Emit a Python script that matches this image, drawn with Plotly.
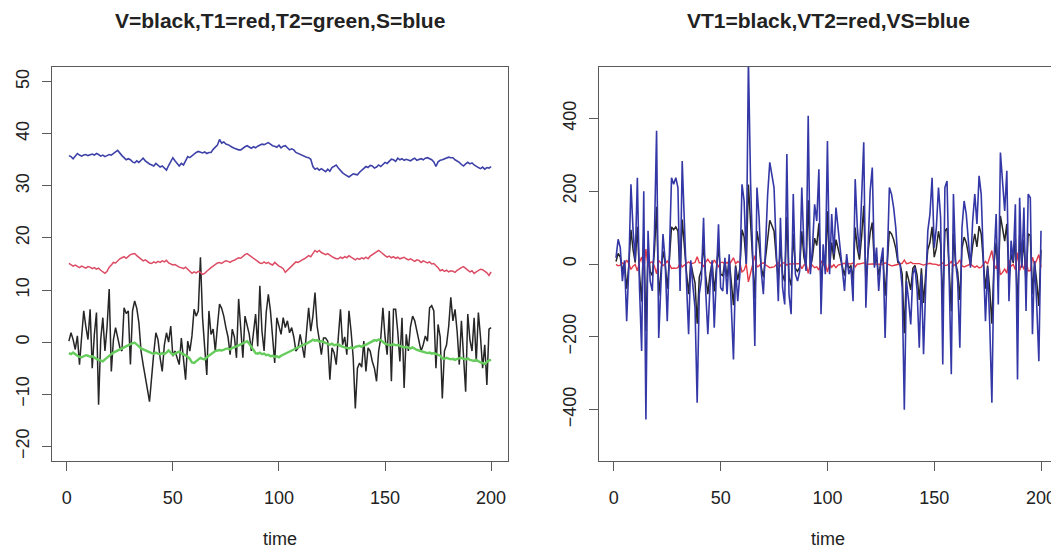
import plotly.graph_objects as go

time = list(range(1, 201))

# Left panel series
V = [0.2, 1.8, 0.5, -1.4, 1.2, -4.3, 1.0, 6.0, 3.0, 0.5,
     6.3, -5.0, 1.5, 5.7, -12.0, 0.5, 4.7, -1.7, 3.0, 10.2,
     -5.6, 0.5, 2.8, 0.8, -1.0, -1.7, 6.6, 5.5, 6.0, -4.3,
     6.0, 7.9, 6.5, 3.7, -1.7, -4.3, -7.0, -9.0, -11.4, -6.0,
     -2.1, 1.8, 0.5, -3.0, -5.6, -0.5, 1.8, 0.0, 3.1, -2.7,
     -1.7, -3.0, -4.3, 0.8, -3.0, -7.2, 0.2, -1.7, 1.2, 6.3,
     5.0, 6.0, 16.3, 4.7, -1.0, -6.3, 6.0, 1.5, 2.5, -1.7,
     3.0, 7.3, 6.5, 5.0, 2.8, 1.0, -2.4, 2.5, 1.0, -3.0,
     8.3, 1.8, -3.0, 5.0, 3.5, 1.5, -1.7, 2.0, 5.4, -0.8,
     10.8, 2.1, -1.7, 5.7, 9.2, 6.0, 1.5, -4.0, 4.7, 3.0,
     1.5, 4.7, 2.8, 4.1, 1.8, 2.8, 1.0, -1.7, -1.1, 1.5,
     -0.5, -3.0, 2.0, 6.6, 2.1, 5.0, 9.5, 3.1, 0.5, -2.4,
     0.8, 0.8, 0.2, -7.2, -1.1, -2.0, -4.3, 1.5, 6.3, -0.5,
     1.0, -2.4, 6.0, 2.1, -3.0, -12.7, -5.0, -4.0, -4.8, 0.2,
     -5.6, -1.1, -1.7, -3.7, -5.0, -7.5, -1.7, 0.8, 6.6, 1.0,
     -2.4, 6.0, -7.5, 6.3, 6.3, 2.0, -3.7, 4.7, -8.8, 1.5,
     -1.7, 3.0, 5.0, 4.1, 2.0, 0.2, -1.7, -0.5, 1.2, 0.2,
     6.6, 7.0, 6.0, -5.0, 3.4, 1.0, -10.8, -1.7, -0.5, 3.0,
     8.6, 4.1, 6.3, 2.0, -4.3, 4.1, -3.0, -9.5, 5.4, 0.5,
     -1.7, 4.7, -3.7, 5.7, 1.0, -5.0, -0.5, -8.2, 2.5, 2.8]

T1 = [15.1, 14.9, 14.6, 14.8, 14.5, 14.3, 14.6, 14.4, 14.2, 14.5,
      14.4, 14.1, 14.3, 14.0, 14.2, 13.8, 13.5, 13.2, 13.6, 14.4,
      14.8, 15.3, 15.2, 15.6, 16.0, 16.2, 16.4, 16.1, 16.5, 16.8,
      16.9, 17.0, 16.6, 16.3, 15.9, 15.6, 15.8, 15.4, 15.2, 15.1,
      15.4, 15.2, 15.5, 15.3, 15.6, 15.4, 15.7, 15.2, 15.0, 14.8,
      14.9, 14.6, 14.4, 14.3, 14.1, 14.4, 14.0, 13.6, 13.2, 13.5,
      13.3, 13.6, 13.4, 13.0, 13.2, 13.6, 14.0, 14.3, 14.6, 14.9,
      15.2, 15.3, 15.1, 15.4, 15.6, 15.5, 15.3, 15.6, 15.7, 16.0,
      16.2, 16.1, 16.5, 16.8, 17.0, 16.7, 16.3, 16.0, 15.7, 15.4,
      15.2, 15.1, 15.4, 15.1, 15.3, 15.0, 14.8, 15.3, 14.9, 14.6,
      14.4, 14.1, 13.4, 13.8, 14.3, 14.7, 15.1, 15.4, 15.3, 15.6,
      15.8, 16.0, 16.3, 16.6, 16.4, 16.9, 17.6, 17.3, 17.6, 17.2,
      17.0, 16.8, 17.0, 16.6, 16.4, 16.2, 16.0, 16.0, 16.3, 16.1,
      16.4, 16.2, 16.6, 16.3, 16.0, 15.8, 16.1, 15.9, 16.2, 16.0,
      16.3, 16.0, 16.5, 16.8, 17.1, 17.4, 17.6, 17.3, 16.9, 16.6,
      16.3, 16.5, 16.2, 16.4, 16.1, 16.3, 16.0, 16.2, 16.3, 16.0,
      15.8, 16.0, 15.7, 15.5, 15.8, 15.7, 15.3, 15.6, 15.4, 15.2,
      15.4, 15.0, 15.1, 14.7, 14.3, 13.7, 13.9, 13.6, 13.8, 13.5,
      13.7, 13.6, 13.4, 13.8, 14.1, 14.3, 14.5, 14.1, 13.8, 13.5,
      13.7, 13.2, 13.5, 13.8, 14.0, 13.9, 13.6, 13.3, 12.8, 13.5]

T2 = [-2.1, -2.3, -2.0, -2.4, -2.6, -2.8, -2.9, -2.7, -2.5, -2.6,
      -2.8, -2.7, -3.0, -3.2, -3.4, -3.5, -3.7, -3.3, -2.9, -2.6,
      -2.3, -2.0, -1.8, -1.5, -1.3, -1.1, -0.9, -0.7, -0.5, -0.4,
      -0.2, -0.1, -0.4, -0.8, -1.2, -1.4, -1.6, -1.8, -2.0, -2.1,
      -2.2, -2.0, -2.2, -2.3, -2.1, -2.3, -2.0, -1.6, -2.0, -2.4,
      -2.2, -2.0, -1.8, -2.1, -2.3, -2.5, -2.8, -3.2, -3.9, -4.0,
      -3.6, -3.3, -3.0, -3.2, -3.3, -2.9, -2.6, -2.3, -2.0, -1.7,
      -1.6, -1.5, -1.6, -1.4, -1.3, -1.2, -1.4, -1.1, -1.0, -0.8,
      -0.6, -0.4, -0.2, 0.0, 0.2, -0.3, -1.0, -1.5, -2.1, -2.2,
      -2.0, -2.3, -2.2, -2.5, -2.4, -2.7, -2.6, -2.8, -2.7, -2.9,
      -2.6, -2.4, -2.2, -2.0, -1.7, -1.5, -1.3, -1.1, -0.9, -0.8,
      -0.6, -0.4, -0.3, -0.1, 0.2, 0.5, 0.3, 0.4, 0.1, 0.2,
      0.0, -0.2, -0.4, -0.5, -0.3, -0.6, -0.5, -0.4, -0.7, -0.9,
      -1.0, -1.1, -1.2, -1.0, -1.2, -0.9, -0.8, -0.7, -0.9, -0.6,
      -0.5, -0.3, -0.1, 0.2, 0.4, 0.3, 0.5, 0.4, 0.0, -0.3,
      -0.4, -0.6, -0.5, -0.4, -0.6, -0.5, -0.7, -0.8, -1.0, -0.9,
      -1.1, -1.2, -1.0, -1.3, -1.5, -1.6, -1.7, -1.8, -2.0, -2.1,
      -2.0, -2.2, -2.1, -2.3, -2.4, -2.6, -3.1, -3.2, -3.0, -3.1,
      -3.3, -3.2, -3.4, -3.2, -3.1, -3.0, -3.2, -3.3, -3.1, -3.4,
      -3.5, -3.6, -3.4, -3.7, -3.9, -4.0, -4.2, -3.8, -3.5, -3.4]

S = [35.8, 35.6, 35.2, 35.7, 36.2, 35.9, 35.7, 35.9, 36.0, 35.8,
     36.0, 36.1, 35.9, 36.2, 36.0, 35.7, 35.9, 35.6, 35.8, 36.0,
     35.9, 36.3, 36.5, 36.8, 36.2, 35.8, 35.4, 35.0, 35.2, 35.0,
     34.6, 34.4, 34.8, 34.5, 34.9, 35.3, 34.8, 34.4, 34.2, 34.0,
     33.8, 34.3, 34.0, 33.6, 33.8, 33.3, 33.0, 33.9, 34.6, 35.4,
     34.8, 34.2, 33.8, 34.3, 34.0, 34.8, 35.6, 35.4, 35.8, 36.2,
     36.4, 36.6, 36.4, 36.3, 36.5, 36.2, 36.4, 36.4, 37.0, 37.5,
     37.8, 38.9, 38.2, 38.4, 38.0, 37.9, 37.6, 37.4, 37.2, 37.0,
     36.9, 36.9, 37.3, 37.5, 37.7, 37.4, 37.2, 37.5, 37.3, 37.6,
     37.8, 38.0, 37.9, 38.1, 38.3, 38.0, 37.7, 37.6, 37.4, 37.8,
     37.3, 37.6, 37.7, 37.3, 36.9, 37.1, 36.9, 36.4, 36.2, 36.0,
     35.9, 35.6, 35.5, 35.4, 35.1, 33.7, 33.2, 33.4, 33.0, 33.3,
     32.9, 32.7, 33.2, 32.8, 33.5, 33.8, 34.0, 33.4, 32.9, 32.5,
     32.2, 31.9, 31.7, 32.0, 32.3, 32.2, 32.1, 32.6, 33.0, 33.4,
     33.7, 33.5, 33.9, 33.8, 33.4, 33.6, 34.0, 33.7, 34.2, 34.5,
     34.3, 34.8, 35.1, 35.0, 34.7, 35.3, 35.0, 35.2, 34.9, 35.1,
     35.0, 34.8, 35.1, 35.3, 34.9, 35.0, 35.2, 35.0, 35.3, 35.4,
     35.2, 35.0, 34.6, 33.7, 34.6, 34.9, 35.0, 35.2, 35.3, 35.5,
     35.4, 35.4, 35.0, 34.8, 34.5, 34.1, 33.8, 34.2, 34.5, 34.2,
     34.4, 34.0, 33.7, 33.5, 33.3, 33.6, 33.2, 33.5, 33.4, 33.7]

# Right panel series
VT1 = [7, 29, 19, -20, 4, -68, -4, 94, 39, 4,
       102, -28, -103, 86, -184, 39, -20, -32, 35, 157,
       -87, -20, 35, 4, -68, 12, 102, 94, 102, 90,
       -32, 122, 43, -22, -83, 4, -26, -52, -164, -36,
       -17, 55, -32, -83, -28, 4, -75, -9, 47, -28,
       -32, 7, -36, 12, -43, -113, -4, -44, -12, 94,
       74, 0, 218, 98, 12, -97, 90, 55, -9, -36,
       19, 82, 120, 106, 90, 19, -44, 55, -28, -48,
       130, -36, -59, 83, -12, -20, -9, 90, 19, -8,
       175, -12, 19, 71, 51, 112, -59, 23, -12, 145,
       -12, 59, 12, 67, 43, 19, -4, -32, 12, -12,
       -4, -44, 100, 43, 12, 74, 160, -52, 31, 86,
       114, -4, 19, -32, 3, 19, -87, 3, 90, 83,
       67, 43, 4, 0, -28, -190, -20, -43, -71, -12,
       -4, -32, -99, -12, -107, -28, 39, 59, 102, 19,
       43, 90, 55, -119, 90, 98, -4, -130, 83, 3,
       -22, -99, 43, 74, 59, 31, -4, 51, 83, 47,
       104, 83, 0, -68, -4, -71, -164, 3, 59, -48,
       132, 102, 63, 110, -44, 28, 3, 71, -136, 78,
       -4, 67, -55, 83, 78, -83, 3, -48, -115, 39]

VT2 = [-1, -5, -3, 3, -1, 11, 1, -15, -6, -1,
       -19, 5, 19, -16, 41, -7, 4, 6, -6, -27,
       10, 2, -4, 0, 8, -1, -12, -11, -12, -10,
       2, -8, -3, 2, 6, 0, 2, 4, 20, 3,
       3, -8, 5, 13, 4, -1, 11, 1, -7, 4,
       5, -1, 5, -2, 7, 17, 1, 7, 3, -22,
       -17, 0, -49, -23, -3, 23, -8, -5, 1, 3,
       -2, -7, -10, -9, -8, -2, 4, -5, 2, 4,
       -3, 0, 0, 0, -1, 0, 1, -13, -3, 1,
       -26, 2, -3, -10, -8, -17, 9, -3, 2, -22,
       2, -9, -2, -10, -3, -1, 0, 2, -1, 1,
       0, 3, -8, 0, 0, 2, 3, -1, 0, 1,
       0, 0, 0, 1, 0, -1, 3, 0, -4, -5,
       -4, -3, 0, 0, 2, 11, 1, 2, 5, 1,
       0, 1, 1, 0, -3, -1, 1, 2, 0, 0,
       -1, -4, -2, 3, -4, -3, 0, 7, -5, 0,
       2, 11, -5, -8, -6, -3, 0, -5, -9, -5,
       -11, -9, 0, 7, 0, 16, 37, -1, -13, 11,
       -30, -23, -14, -25, 10, -6, -1, -16, 31, -18,
       1, -15, 13, -19, -18, 19, -1, 11, 26, -9]

VS = [17, 68, 45, -47, 10, -157, -10, 219, 91, 10,
      237, -65, -239, 200, -427, 91, -47, -74, 82, 366,
      -203, -47, 82, 10, -157, 27, 237, 219, 237, 210,
      -74, 283, 100, -50, -193, 10, -60, -120, -381, -83,
      -40, 127, -74, -193, -65, 10, -175, -20, 109, -65,
      -74, 17, -83, 27, -100, -262, -10, -102, -28, 219,
      173, 0, 560, 228, 27, -225, 210, 127, -20, -83,
      45, 190, 279, 247, 210, 45, -102, 127, -65, -111,
      302, -83, -138, 192, -28, -47, -20, 210, 45, -19,
      407, -28, 45, 164, 118, 260, -138, 54, -28, 338,
      -28, 137, 27, 155, 100, 45, -10, -74, 27, -28,
      -10, -102, 233, 100, 27, 173, 334, -120, 72, 200,
      265, -10, 45, -74, 8, 45, -203, 8, 210, 192,
      155, 100, 10, 0, -65, -400, -47, -100, -166, -28,
      -10, -74, -230, -28, -248, -65, 91, 137, 237, 45,
      100, 210, 127, -276, 210, 228, -10, -303, 192, 8,
      -50, -230, 100, 173, 137, 72, -10, 118, 192, 110,
      242, 192, 0, -157, -10, -166, -381, 8, 137, -111,
      306, 237, 146, 256, -102, 64, 8, 164, -317, 182,
      -10, 155, -129, 192, 182, -193, 8, -111, -267, 91]

for _s in (V, T1, T2, S, VT1, VT2, VS):
    assert len(_s) == 200, len(_s)

x_ticks = [0, 50, 100, 150, 200]
left_y_ticks = [-20, -10, 0, 10, 20, 30, 40, 50]
right_y_ticks = [-400, -200, 0, 200, 400]

FONT = "Liberation Sans, Arial, Helvetica, sans-serif"
# the page body has an 8px margin: the figure starts at (8, 8) in the window
OFF = 8
W, H = 1059 - OFF, 548 - OFF


def px(x):
    return (x - OFF) / W


def py(y):
    return 1 - (y - OFF) / H


fig = go.Figure()
# Left panel
fig.add_trace(go.Scatter(x=time, y=V, mode="lines", line=dict(color="#262626", width=1.5), xaxis="x", yaxis="y"))
fig.add_trace(go.Scatter(x=time, y=T1, mode="lines", line=dict(color="#dc4c64", width=1.5), xaxis="x", yaxis="y"))
fig.add_trace(go.Scatter(x=time, y=T2, mode="lines", line=dict(color="#66cc5c", width=2.4), xaxis="x", yaxis="y"))
fig.add_trace(go.Scatter(x=time, y=S, mode="lines", line=dict(color="#3e42a8", width=1.6), xaxis="x", yaxis="y"))
# Right panel
fig.add_trace(go.Scatter(x=time, y=VT1, mode="lines", line=dict(color="#262626", width=1.5), xaxis="x2", yaxis="y2"))
fig.add_trace(go.Scatter(x=time, y=VT2, mode="lines", line=dict(color="#e23a48", width=1.4), xaxis="x2", yaxis="y2"))
fig.add_trace(go.Scatter(x=time, y=VS, mode="lines", line=dict(color="#3438a6", width=1.6), xaxis="x2", yaxis="y2"))

axis_common = dict(
    showline=True, mirror=True, linecolor="#5a5a5a", linewidth=1.3,
    showgrid=False, zeroline=False, ticks="outside", ticklen=9,
    tickcolor="#5a5a5a", tickwidth=1.3,
    tickfont=dict(family=FONT, size=18, color="#222222"),
)

x1d = [px(52), px(508)]
x2d = [px(599), px(1058)]
yd = [py(461), py(67)]

fig.update_layout(
    width=W, height=H,
    margin=dict(l=0, r=0, t=0, b=0),
    paper_bgcolor="white", plot_bgcolor="white",
    showlegend=False,
    xaxis=dict(domain=x1d, anchor="y", range=[-6.96, 207.96], tickvals=x_ticks,
               ticklabelstandoff=11, **axis_common),
    yaxis=dict(domain=yd, anchor="x", range=[-22.8, 52.8], tickvals=left_y_ticks,
               tickangle=-90, ticklabelstandoff=6, **axis_common),
    xaxis2=dict(domain=x2d, anchor="y2", range=[-6.96, 207.96], tickvals=x_ticks,
                ticklabelstandoff=11, **axis_common),
    yaxis2=dict(domain=yd, anchor="x2", range=[-541, 541], tickvals=right_y_ticks,
                tickangle=-90, ticklabelstandoff=6, **axis_common),
    annotations=[
        dict(text="<b>V=black,T1=red,T2=green,S=blue</b>", x=px(280), y=py(21),
             xref="paper", yref="paper", xanchor="center", yanchor="middle", showarrow=False,
             font=dict(family=FONT, size=21, color="#222222")),
        dict(text="<b>VT1=black,VT2=red,VS=blue</b>", x=px(828), y=py(21),
             xref="paper", yref="paper", xanchor="center", yanchor="middle", showarrow=False,
             font=dict(family=FONT, size=21, color="#222222")),
        dict(text="time", x=px(280), y=py(539),
             xref="paper", yref="paper", xanchor="center", yanchor="middle", showarrow=False,
             font=dict(family=FONT, size=18, color="#222222")),
        dict(text="time", x=px(828), y=py(539),
             xref="paper", yref="paper", xanchor="center", yanchor="middle", showarrow=False,
             font=dict(family=FONT, size=18, color="#222222")),
    ],
)

fig.write_html("out.html")
